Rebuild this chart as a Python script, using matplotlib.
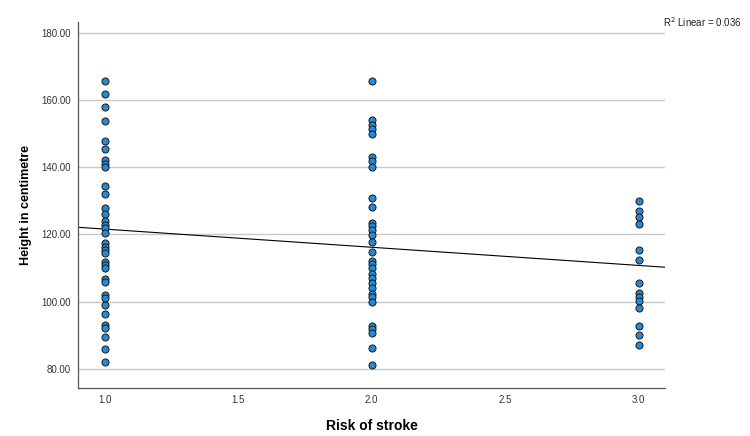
import matplotlib
matplotlib.use("Agg")
import matplotlib.pyplot as plt
import numpy as np

plt.rcParams['font.family'] = ['Liberation Sans', 'DejaVu Sans']

# Heights, grouped by risk level
risk_1 = [165.8, 161.9, 157.9, 153.9, 147.9, 145.4, 142.2, 141.0, 140.1, 134.3,
          132.1, 127.8, 126.1, 124.1, 122.9, 121.9, 120.4, 117.4, 116.4, 115.4,
          114.4, 111.9, 110.9, 110.0, 106.8, 106.0, 102.0, 101.0, 99.0, 96.3,
          93.1, 92.1, 89.6, 86.0, 82.0]
risk_2 = [165.8, 154.1, 152.6, 151.3, 149.9, 143.2, 142.0, 140.0, 130.8, 128.2,
          123.4, 122.4, 121.4, 119.9, 117.9, 114.9, 112.2, 111.2, 110.0, 108.3,
          107.0, 105.5, 104.0, 102.3, 101.3, 100.0, 92.8, 91.8, 90.8, 86.2, 81.2]
risk_3 = [130.0, 127.0, 125.1, 123.2, 115.4, 112.4, 105.7, 102.5, 101.3, 100.3,
          98.1, 92.8, 90.1, 87.1]

x = np.array([1.0] * len(risk_1) + [2.0] * len(risk_2) + [3.0] * len(risk_3))
y = np.array(risk_1 + risk_2 + risk_3)

y_ticks = [80, 100, 120, 140, 160, 180]
x_ticks = [1.0, 1.5, 2.0, 2.5, 3.0]

fig = plt.figure(figsize=(7.5, 4.36), dpi=100)
ax = fig.add_axes([0.104, 0.110, 0.783, 0.840])

ax.set_xlim(0.9, 3.1)
ax.set_ylim(74.3, 183.3)

# horizontal grid
for t in y_ticks:
    ax.axhline(t, color='#c8c8c8', lw=1.0, zorder=0)

ax.scatter(x, y, s=26, color='#2489d6', edgecolors='#1a1a1a', linewidths=0.7, zorder=3)

# fit line
slope, icpt = np.polyfit(x, y, 1)
xs = np.array(ax.get_xlim())
ax.plot(xs, icpt + slope * xs, color='black', lw=0.8, zorder=2)

ax.set_yticks(y_ticks)
ax.set_yticklabels([f"{t:.2f}" for t in y_ticks], fontsize=7, color='#333333')
ax.set_xticks(x_ticks)
ax.set_xticklabels([f"{t:.1f}" for t in x_ticks], fontsize=7, color='#333333')
ax.tick_params(axis='x', length=0, pad=5)
ax.tick_params(axis='y', length=0, pad=5)

for s in ['top', 'right']:
    ax.spines[s].set_visible(False)
for s in ['left', 'bottom']:
    ax.spines[s].set_color('#555555')
    ax.spines[s].set_linewidth(0.9)

ax.set_xlabel("Risk of stroke", fontsize=10, fontweight='bold', labelpad=10)
ax.set_ylabel("Height in centimetre", fontsize=9, fontweight='bold', labelpad=7)

fig.text(0.884, 0.950, r"R$^2$ Linear = 0.036", fontsize=7, ha='left', va='center', color='#222222')

plt.savefig("out.png", dpi=100)
plt.close()
